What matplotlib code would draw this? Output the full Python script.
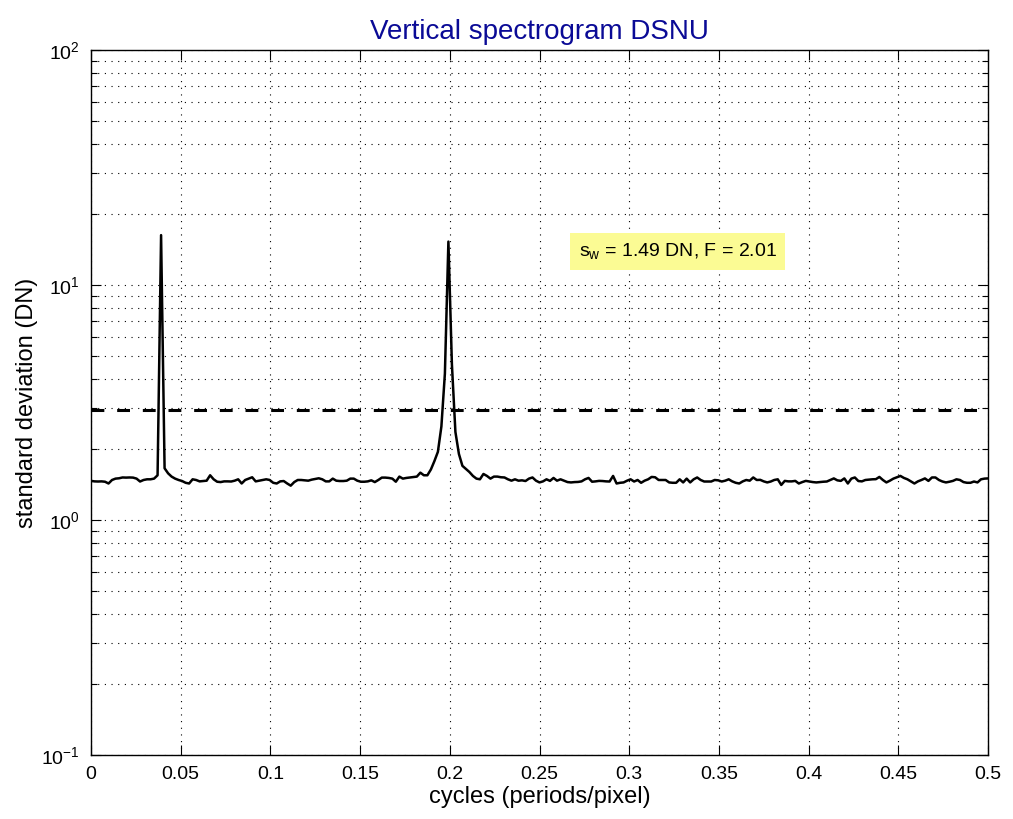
import numpy as np
import matplotlib
matplotlib.use("Agg")
import matplotlib.pyplot as plt
from matplotlib.ticker import LogLocator, NullFormatter

plt.rcParams['font.family'] = ['Liberation Sans', 'DejaVu Sans']
plt.rcParams['mathtext.fontset'] = 'custom'
plt.rcParams['mathtext.rm'] = 'Liberation Sans'
plt.rcParams['mathtext.it'] = 'Liberation Sans'
plt.rcParams['mathtext.default'] = 'regular'

# ---- data ----
std_dev = [
    1.467, 1.46, 1.458, 1.46, 1.455, 1.43, 1.48, 1.50, 1.505, 1.517,
    1.515, 1.517, 1.515, 1.50, 1.458, 1.48, 1.49, 1.49, 1.50, 1.55,
    16.3, 1.66, 1.58, 1.53, 1.50, 1.48, 1.465, 1.44, 1.43, 1.49,
    1.48, 1.46, 1.465, 1.47, 1.55, 1.49, 1.455, 1.45, 1.46, 1.46,
    1.458, 1.47, 1.49, 1.43, 1.48, 1.50, 1.52, 1.46, 1.47, 1.48,
    1.49, 1.48, 1.44, 1.43, 1.46, 1.465, 1.43, 1.40, 1.45, 1.48,
    1.48, 1.475, 1.47, 1.485, 1.495, 1.505, 1.49, 1.46, 1.46, 1.50,
    1.47, 1.465, 1.465, 1.47, 1.50, 1.50, 1.47, 1.455, 1.455, 1.46,
    1.475, 1.45, 1.48, 1.515, 1.515, 1.51, 1.50, 1.455, 1.53, 1.50,
    1.51, 1.517, 1.525, 1.53, 1.59, 1.55, 1.55, 1.64, 1.78, 1.95,
    2.5, 4.2, 15.3, 4.6, 2.37, 1.91, 1.70, 1.65, 1.60, 1.54,
    1.50, 1.49, 1.57, 1.54, 1.50, 1.53, 1.53, 1.52, 1.517, 1.49,
    1.47, 1.49, 1.47, 1.475, 1.465, 1.50, 1.517, 1.47, 1.445, 1.46,
    1.49, 1.467, 1.51, 1.47, 1.49, 1.47, 1.45, 1.445, 1.45, 1.452,
    1.46, 1.49, 1.51, 1.455, 1.46, 1.467, 1.465, 1.46, 1.458, 1.54,
    1.43, 1.44, 1.445, 1.47, 1.49, 1.458, 1.48, 1.44, 1.47, 1.49,
    1.525, 1.52, 1.48, 1.48, 1.48, 1.445, 1.44, 1.44, 1.49, 1.445,
    1.50, 1.445, 1.49, 1.517, 1.48, 1.458, 1.458, 1.458, 1.48, 1.475,
    1.458, 1.47, 1.49, 1.46, 1.44, 1.43, 1.46, 1.48, 1.47, 1.517,
    1.48, 1.482, 1.46, 1.445, 1.458, 1.48, 1.49, 1.41, 1.467, 1.46,
    1.46, 1.467, 1.43, 1.45, 1.467, 1.458, 1.45, 1.445, 1.45, 1.455,
    1.458, 1.48, 1.503, 1.475, 1.467, 1.503, 1.43, 1.50, 1.517, 1.465,
    1.46, 1.48, 1.485, 1.49, 1.492, 1.525, 1.48, 1.445, 1.47, 1.50,
    1.52, 1.54, 1.51, 1.49, 1.46, 1.43, 1.46, 1.48, 1.503, 1.467,
    1.517, 1.517, 1.48, 1.458, 1.445, 1.455, 1.467, 1.49, 1.48, 1.45,
    1.44, 1.44, 1.458, 1.445, 1.49, 1.50, 1.503,
]
cycles = np.linspace(0.0, 0.5, len(std_dev))
threshold = 2.95
sigma_w = 1.49
f_value = 2.01
title = "Vertical spectrogram DSNU"
xlabel = "cycles (periods/pixel)"
ylabel = "standard deviation (DN)"
x_ticks = [0, 0.05, 0.1, 0.15, 0.2, 0.25, 0.3, 0.35, 0.4, 0.45, 0.5]
x_ticklabels = ["0", "0.05", "0.1", "0.15", "0.2", "0.25", "0.3", "0.35", "0.4", "0.45", "0.5"]

# ---- figure ----
fig = plt.figure(figsize=(10.13, 8.19), dpi=100)
ax = fig.add_axes([91/1013, 64/819, 897/1013, 705/819])

ax.plot(cycles, std_dev, color='black', lw=1.8)
ax.axhline(threshold, color='black', lw=2.2, linestyle=(0, (4.2, 4.2)))

ax.set_yscale('log')
ax.set_xlim(0, 0.5)
ax.set_ylim(0.1, 100)
ax.set_xticks(x_ticks)
ax.set_xticklabels(x_ticklabels)
ax.yaxis.set_major_locator(LogLocator(base=10, numticks=10))
ax.yaxis.set_minor_locator(LogLocator(base=10, subs=np.arange(2, 10), numticks=20))
ax.yaxis.set_minor_formatter(NullFormatter())

dot = (0, (1, 5))
ax.grid(True, which='major', axis='both', color='black', linestyle=dot, lw=0.8)
ax.grid(True, which='minor', axis='y', color='black', linestyle=dot, lw=0.8)

ax.tick_params(which='both', direction='in', top=True, right=True, labelsize=14, pad=8)
ax.tick_params(which='major', length=7, width=0.8)
ax.tick_params(which='minor', length=4, width=0.8)
for s in ax.spines.values():
    s.set_linewidth(1.0)

ax.set_title(title, fontsize=20, color='#0a0a96', pad=8)
ax.set_xlabel(xlabel, fontsize=17, labelpad=2)
ax.set_ylabel(ylabel, fontsize=17, labelpad=2)

ax.text(0.327, 13.9, r'$s_w$' + f' = {sigma_w:.2f} DN, F = {f_value:.2f}',
        fontsize=14, ha='center', va='center',
        bbox=dict(boxstyle='square,pad=0.45', facecolor='#fbfb94', edgecolor='none'))

fig.savefig('out.png', dpi=100)
